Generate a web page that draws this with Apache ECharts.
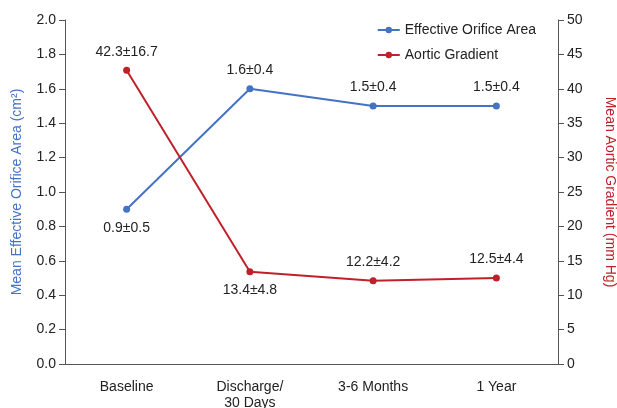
<!DOCTYPE html>
<html>
<head>
<meta charset="utf-8">
<script src="https://cdn.jsdelivr.net/npm/echarts@6/dist/echarts.min.js"></script>
<style>html,body{margin:0;padding:0;background:#fff}#main{width:617px;height:408px}</style>
</head>
<body>
<div id="main"></div>
<script>
var categories = ['Baseline', 'Discharge/\n30 Days', '3-6 Months', '1 Year'];
var eoaValues = [0.9, 1.6, 1.5, 1.5];
var eoaLabels = ['0.9±0.5', '1.6±0.4', '1.5±0.4', '1.5±0.4'];
var gradValues = [42.7, 13.4, 12.1, 12.5];
var gradLabels = ['42.3±16.7', '13.4±4.8', '12.2±4.2', '12.5±4.4'];
var labelBelowEoa = [true, false, false, false];
var labelBelowGrad = [false, true, false, false];

var blue = '#4472C4', red = '#C0202A';
var font = 'Arial, "Liberation Sans", sans-serif';

function buildData(vals, labels, below) {
    return vals.map(function (v, i) {
        return {
            value: v,
            label: {
                show: true,
                position: below[i] ? 'bottom' : 'top',
                distance: 8,
                formatter: labels[i]
            }
        };
    });
}

var myChart = echarts.init(document.getElementById('main'));
var option = {
    animation: false,
    textStyle: { fontFamily: font },
    grid: { left: 65, right: 59, top: 20, bottom: 44, outerBoundsMode: 'none', containLabel: false },
    legend: {
        orient: 'vertical',
        right: 76,
        top: 18,
        itemWidth: 22,
        itemHeight: 8,
        itemGap: 11,
        textStyle: { fontSize: 14, color: '#222', fontFamily: font },
        data: ['Effective Orifice Area', 'Aortic Gradient']
    },
    xAxis: {
        type: 'category',
        data: categories,
        boundaryGap: true,
        axisLine: { lineStyle: { color: '#555', width: 1 } },
        axisTick: { show: false },
        axisLabel: { color: '#222', fontSize: 14, margin: 15, lineHeight: 16, fontFamily: font }
    },
    yAxis: [{
        type: 'value',
        min: 0, max: 2, interval: 0.2,
        name: 'Mean Effective Orifice Area (cm²)',
        nameLocation: 'middle',
        nameGap: 41,
        nameTextStyle: { color: blue, fontSize: 14, fontFamily: font },
        axisLine: { show: true, lineStyle: { color: '#555' } },
        axisTick: { show: true, length: 6, lineStyle: { color: '#555' } },
        axisLabel: { color: '#222', fontSize: 14, margin: 9, formatter: function (v) { return v.toFixed(1); } },
        splitLine: { show: false }
    }, {
        type: 'value',
        min: 0, max: 50, interval: 5,
        name: 'Mean Aortic Gradient (mm Hg)',
        nameLocation: 'middle',
        nameGap: 45,
        nameRotate: -90,
        nameTextStyle: { color: red, fontSize: 14, fontFamily: font },
        axisLine: { show: true, lineStyle: { color: '#555' } },
        axisTick: { show: true, length: 6, lineStyle: { color: '#555' } },
        axisLabel: { color: '#222', fontSize: 14, margin: 9 },
        splitLine: { show: false }
    }],
    series: [{
        name: 'Effective Orifice Area',
        type: 'line',
        yAxisIndex: 0,
        data: buildData(eoaValues, eoaLabels, labelBelowEoa),
        symbol: 'circle',
        symbolSize: 7,
        itemStyle: { color: blue },
        lineStyle: { color: blue, width: 2 },
        label: { color: '#222', fontSize: 14, fontFamily: font }
    }, {
        name: 'Aortic Gradient',
        type: 'line',
        yAxisIndex: 1,
        data: buildData(gradValues, gradLabels, labelBelowGrad),
        symbol: 'circle',
        symbolSize: 7,
        itemStyle: { color: red },
        lineStyle: { color: red, width: 2 },
        label: { color: '#222', fontSize: 14, fontFamily: font }
    }]
};
myChart.setOption(option);
</script>
</body>
</html>
